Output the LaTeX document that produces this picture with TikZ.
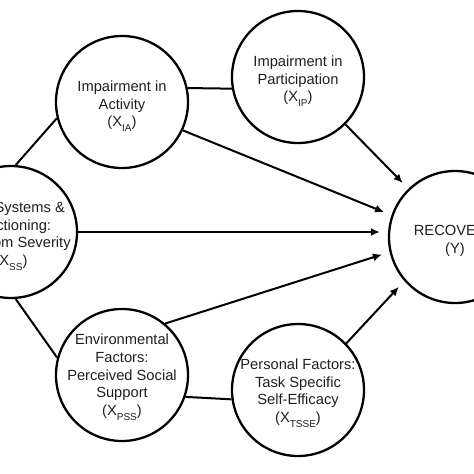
\documentclass[tikz,border=0pt]{standalone}
\usepackage{fontspec}
\setmainfont{Liberation Sans}
\usetikzlibrary{arrows.meta}
\newcommand{\subx}[1]{\raisebox{-0.3em}{\fontsize{10}{10}\selectfont #1}}
\begin{document}
\begin{tikzpicture}[x=1pt,y=-1pt,
  var/.style={circle,draw,line width=2.3pt,minimum size=132pt,inner sep=0pt},
  txt/.style={align=center,inner sep=0pt,font=\fontsize{14.7}{17.8}\selectfont,text=black!88},
  link/.style={line width=2pt},
  arr/.style={link,-{Latex[length=9pt,width=8pt]},shorten >=8pt}]
\useasboundingbox (0,0) rectangle (474,474);
\clip (0,0) rectangle (474,474);
\node[var] (ss) at (11,232) {};
\node[var] (ia) at (122,102) {};
\node[var] (ip) at (298,77) {};
\node[var] (rec) at (455,237) {};
\node[var] (pss) at (122,375) {};
\node[var] (tsse) at (298,390) {};
\node[txt] (sst) at ([yshift=-4pt]ss.center) {Body Systems \&\\Functioning:\\Symptom Severity\\(X\subx{SS})};
\node[txt] (iat) at ([yshift=-4pt]ia.center) {Impairment in\\Activity\\(X\subx{IA})};
\node[txt] (ipt) at ([yshift=-4pt]ip.center) {Impairment in\\Participation\\(X\subx{IP})};
\node[txt] (rect) at ([yshift=-4pt]rec.center) {RECOVERY\\(Y)};
\node[txt] (psst) at ([yshift=-2pt]pss.center) {Environmental\\Factors:\\Perceived Social\\Support\\(X\subx{PSS})};
\node[txt] (tsset) at ([yshift=-3pt]tsse.center) {Personal Factors:\\Task Specific\\Self-Efficacy\\(X\subx{TSSE})};
\draw[link] (ss.86) -- (ia.194);
\draw[link] (ss.-86) -- (pss.165);
\draw[link] (ia.12) -- (ip.190);
\draw[link] (pss.-19) -- (tsse.188);
\draw[arr] (ia.-25) -- (rec.161);
\draw[arr] (ip.-45) -- (rec.134);
\draw[arr] (ss.0) -- (ss.0 -| rec.west);
\draw[arr] (pss.50) -- (rec.193);
\draw[arr] (tsse.44) -- (rec.221);
\end{tikzpicture}
\end{document}
